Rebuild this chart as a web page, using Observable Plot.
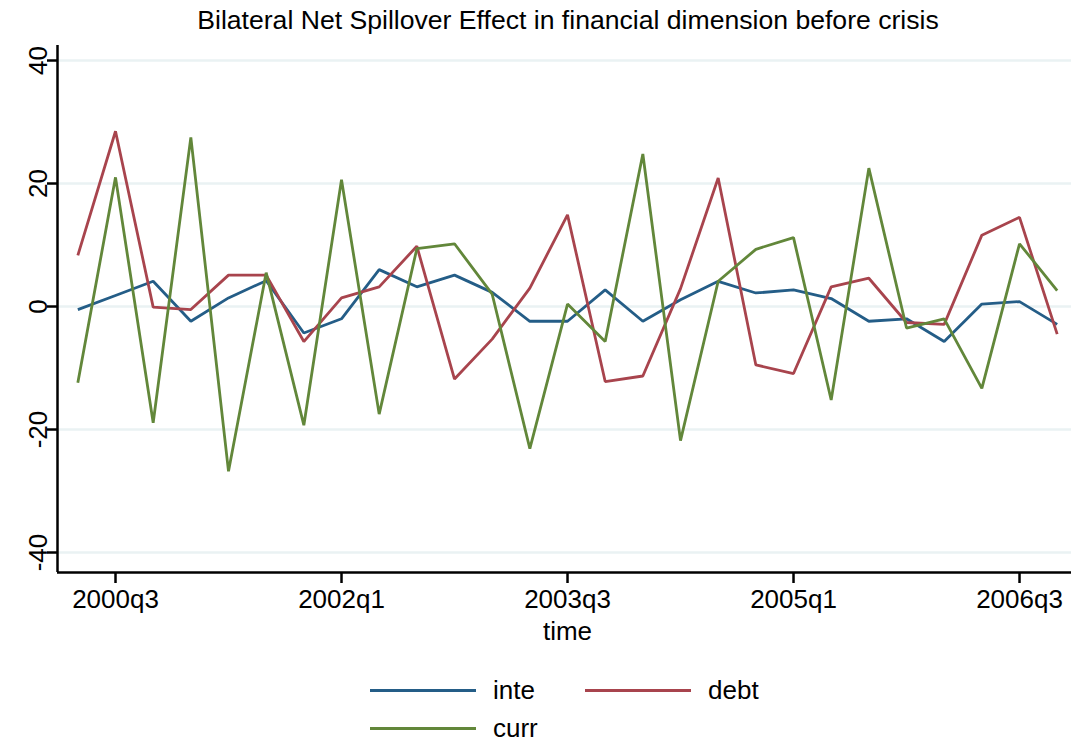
<!DOCTYPE html>
<html>
<head>
<meta charset="utf-8">
<script src="https://cdn.jsdelivr.net/npm/d3@7"></script>
<script src="https://cdn.jsdelivr.net/npm/@observablehq/plot@0.6"></script>
<style>
  html, body { margin: 0; padding: 0; background: #fff; }
  #wrap { position: relative; width: 1071px; height: 742px; overflow: hidden; font-family: "Liberation Sans", Arial, Helvetica, sans-serif; }
  #title { position: absolute; left: 57px; width: 1022px; top: 4px; text-align: center; font-size: 26.6px; line-height: 32px; color: #000; }
  #chart { position: absolute; left: 0; top: 0; }
  .leg { position: absolute; display: flex; align-items: center; font-size: 26px; line-height: 26px; color: #000; }
  .sw { width: 106px; height: 3px; margin-right: 17px; }
</style>
</head>
<body>
<div id="wrap">
  <div id="chart"></div>
  <div id="title">Bilateral Net Spillover Effect in financial dimension before crisis</div>
  <div id="legend"></div>
</div>
<script>
const quarters = ["2000q2","2000q3","2000q4","2001q1","2001q2","2001q3","2001q4",
  "2002q1","2002q2","2002q3","2002q4","2003q1","2003q2","2003q3","2003q4",
  "2004q1","2004q2","2004q3","2004q4","2005q1","2005q2","2005q3","2005q4",
  "2006q1","2006q2","2006q3","2006q4"];
const inte = [-0.5, 1.8, 4.1, -2.4, 1.4, 4.2, -4.3, -2.0, 6.0, 3.2, 5.1, 2.3, -2.4, -2.4,
  2.7, -2.4, 1.1, 4.1, 2.2, 2.7, 1.3, -2.4, -2.0, -5.7, 0.4, 0.8, -2.9];
const debt = [8.3, 28.5, -0.1, -0.5, 5.1, 5.1, -5.7, 1.4, 3.2, 9.8, -11.8, -5.3, 3.0, 14.9,
  -12.2, -11.3, 2.9, 20.9, -9.5, -10.9, 3.2, 4.6, -2.6, -2.9, 11.6, 14.5, -4.5];
const curr = [-12.4, 21.0, -18.9, 27.5, -26.8, 5.5, -19.3, 20.6, -17.5, 9.4, 10.2, 2.0, -23.1,
  0.4, -5.7, 24.8, -21.8, 4.1, 9.3, 11.2, -15.2, 22.5, -3.5, -2.0, -13.3, 10.2, 2.6];
const seriesNames = ["inte", "debt", "curr"];
const seriesColors = ["#245d87", "#a8444d", "#62873a"];
const yTicks = [-40, -20, 0, 20, 40];
const xTickLabels = ["2000q3", "2002q1", "2003q3", "2005q1", "2006q3"];
const xTitle = "time";

const seriesValues = [inte, debt, curr];
const rows = [];
seriesNames.forEach((name, s) => {
  seriesValues[s].forEach((v, i) => rows.push({series: name, i, v}));
});

const xDomain = [-0.54, 26.38];
const yDomain = [-43.25, 42.44];
const font = "'Liberation Sans', Arial, Helvetica, sans-serif";

const chart = Plot.plot({
  width: 1071,
  height: 660,
  marginTop: 45,
  marginLeft: 57,
  marginRight: 0,
  marginBottom: 88,
  style: {fontFamily: font, background: "white", color: "#000", overflow: "visible"},
  x: {type: "linear", domain: xDomain},
  y: {type: "linear", domain: yDomain},
  color: {domain: seriesNames, range: seriesColors},
  marks: [
    Plot.gridY(yTicks, {stroke: "#eaf2f3", strokeOpacity: 1, strokeWidth: 2.5}),
    Plot.line(rows, {x: "i", y: "v", z: "series", stroke: "series", strokeWidth: 2.8, strokeLinejoin: "miter", strokeLinecap: "butt"}),
    Plot.ruleX([xDomain[0]], {stroke: "#000", strokeWidth: 2.5}),
    Plot.ruleY([yDomain[0]], {stroke: "#000", strokeWidth: 2.5}),
    Plot.axisX(xTickLabels.map(l => quarters.indexOf(l)), {
      tickFormat: i => quarters[i], tickSize: 11, tickPadding: 6,
      fontSize: 26, strokeWidth: 2.5, label: null
    }),
    Plot.axisY(yTicks, {tickFormat: () => "", tickSize: 10, strokeWidth: 2.5, label: null}),
    Plot.text(yTicks, {y: d => d, text: d => String(d), frameAnchor: "left", dx: -19,
      rotate: -90, textAnchor: "middle", fontSize: 26}),
    Plot.text([xTitle], {frameAnchor: "bottom", dx: 3, dy: 67, fontSize: 26})
  ]
});
document.getElementById("chart").appendChild(chart);

const legendPos = [
  {left: 370, top: 690},
  {left: 585, top: 690},
  {left: 370, top: 728}
];
const legend = document.getElementById("legend");
seriesNames.forEach((name, s) => {
  const item = document.createElement("div");
  item.className = "leg";
  item.style.left = legendPos[s].left + "px";
  item.style.top = (legendPos[s].top - 13) + "px";
  item.style.height = "26px";
  const sw = document.createElement("div");
  sw.className = "sw";
  sw.style.background = seriesColors[s];
  const tx = document.createElement("span");
  tx.textContent = name;
  item.appendChild(sw);
  item.appendChild(tx);
  legend.appendChild(item);
});
</script>
</body>
</html>
